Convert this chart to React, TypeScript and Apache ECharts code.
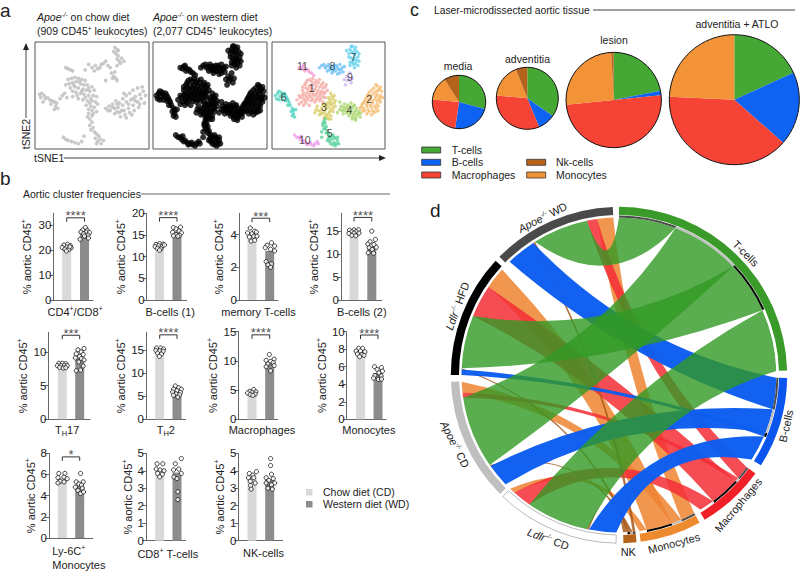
import React, { useEffect, useRef } from "react";
import * as echarts from "echarts";

const FONT = "Liberation Sans, Arial, sans-serif";
const TXT = "#222";

// ---------- a: tSNE ----------
const chowPoints = [
  [70,95],[72,93],[69,91],[71,89],[73,87],[72,84],[76,85],[78,82],[75,80],[72,78],[47,79],[50,76],[53,78],[55,75],[58,79],[60,80],[62,82],[57,76],[52,73],[64,78],
  [67,71],[70,72],[69,68],[71,66],[72,64],[68,66],[62,64],[27,76],[29,75],[31,74],[33,73],
  [29,65],[32,66],[35,67],[38,66],[41,65],[44,64],[30,61],[33,62],[36,63],[40,61],[43,60],[46,60],[50,58],[31,57],[35,58],[38,57],[42,56],[45,55],[48,54],[52,55],[36,53],[40,52],[43,51],[47,50],[51,50],[54,49],
  [26,52],[28,48],[33,49],[38,47],[42,46],[46,45],[50,45],[53,44],[45,41],[49,40],[52,39],[47,37],[50,36],[54,35],[47,33],[50,31],[48,28],[50,25],[48,22],[51,20],[49,18],[52,16],[54,14],[56,12],[53,10],[57,9],[55,7],[58,5],[54,5],[60,8],
  [25,11],[27,9],[29,8],[32,7],[35,6],[38,5],[41,7],[43,12],
  [4,51],[6,52],[8,50],[5,48],[9,47],[11,48],[13,46],[15,45],[17,44],[14,42],[18,40],[20,38],[17,37],[22,47],[24,50],
  [62,38],[65,40],[68,42],[71,45],[74,43],[77,47],[80,50],[83,52],[86,55],[90,57],[94,58],[66,36],[70,38],[73,39],[77,41],[80,44],[84,46],[88,49],[92,51],[95,54],[70,33],[74,34],[78,36],[82,38],[86,41],[90,44],[93,47],[75,30],[79,32],[83,34],[87,36],[91,39],[96,43],[80,29],
  [34,60],[39,63],[47,57],[41,54],[37,50],[44,48],[49,47],[33,54],[27,60],[55,42],[48,43],[51,33],[46,30],[64,36],[72,42],[76,36],[82,42],[88,45],[92,42],[85,32],[68,39],[78,52],[97,50],[86,47],[72,35],[7,44],[19,43],[73,92],[74,82],[66,76],[44,74]
];
const cluster1 = [[30,62],[33,65],[36,66],[39,64],[42,65],[45,62],[48,60],[27,58],[30,57],[33,59],[36,60],[39,59],[42,58],[45,57],[49,55],[28,52],[31,53],[34,54],[37,55],[40,53],[43,52],[46,52],[25,48],[28,47],[31,48],[34,49],[37,50],[40,48],[43,47],[26,44],[30,43],[35,45],[38,44],[24,42],[22,46],[47,48],
  [31,64],[35,63],[38,62],[41,62],[44,60],[47,58],[29,60],[32,56],[35,57],[38,56],[41,55],[44,54],[47,53],[27,55],[30,50],[33,51],[36,52],[39,51],[42,50],[45,49],[24,50],[27,50],[29,45],[32,46],[36,47],[39,46],[42,45],[28,41],[33,41],[45,44]];
const cluster2 = [[93,59],[96,58],[90,57],[94,55],[97,54],[86,53],[90,52],[93,51],[96,50],[84,49],[87,48],[91,47],[95,46],[82,45],[85,44],[89,43],[93,42],[80,42],[84,40],[88,39],[92,38],[78,38],[82,36],[86,35],[90,34],[94,36],[98,48],
  [92,60],[95,56],[88,55],[92,54],[85,51],[88,50],[92,49],[95,48],[83,47],[86,46],[89,45],[93,45],[96,44],[81,43],[84,42],[87,41],[91,40],[94,40],[79,40],[81,38],[85,37],[89,36],[92,35],[80,35],[84,33],[88,32]];
const cluster3 = [[52,52],[55,50],[50,48],[54,47],[52,44],[56,45],[49,43],[53,41],[46,42],[50,39],[54,38],[44,38],[47,36],[51,35],[41,36],[44,33],[48,32],[52,31],[46,29],[50,28],[40,40],[38,34],[56,40],
  [53,49],[51,46],[55,43],[48,41],[51,42],[45,40],[48,38],[52,37],[43,35],[46,34],[50,33],[54,35],[42,32],[47,30],[52,28],[49,30],[39,37]];
const cluster4 = [[61,40],[64,42],[67,41],[70,43],[73,41],[62,36],[65,38],[68,37],[71,38],[74,36],[77,35],[66,34],[69,33],[72,32],[75,31],[78,30],[71,28],[74,27],[58,34],[60,44],
  [63,39],[66,39],[69,40],[72,40],[75,38],[64,36],[67,35],[70,35],[73,34],[76,33],[68,31],[71,30],[74,29],[63,33],[60,37],[78,33]];
const cluster5 = [[46,26],[47,24],[45,22],[48,21],[46,19],[49,17],[44,16],[50,14],[52,12],[54,13],[53,9],[56,10],[51,7],[55,6],[58,8],[54,4],[57,5],[50,10],[44,11],
  [47,28],[45,24],[47,19],[48,15],[51,11],[55,11],[52,5],[56,3],[59,5],[49,8],[58,11]];
const cluster6 = [[5,52],[8,53],[11,52],[7,49],[10,49],[13,48],[12,45],[15,44],[16,41],[18,38],[17,35],[19,33],[20,30],[3,50],[21,37],
  [4,47],[6,46],[9,51],[6,54],[12,50],[9,46],[14,46],[14,41],[19,36],[18,31]];
const cluster7 = [[69,93],[71,96],[74,95],[68,89],[72,90],[75,91],[70,85],[73,85],[76,86],[71,81],[74,80],[77,82],[69,78],[73,76],
  [70,96],[73,93],[70,91],[73,88],[77,89],[68,86],[75,83],[72,83],[69,81],[76,78],[72,79],[66,92]];
const cluster8 = [[44,78],[47,76],[50,79],[52,75],[55,78],[58,76],[60,79],[56,73],[61,74],[49,73],[53,71],[64,77],[58,70],[63,72],
  [46,79],[48,77],[51,77],[53,77],[57,78],[59,74],[62,76],[55,75],[51,74],[54,73],[60,71],[42,76]];
const cluster9 = [[66,68],[69,71],[71,66],[67,64],[65,60],[70,62],[68,66],[64,65]];
const cluster10 = [[22,11],[25,9],[27,7],[30,6],[32,5],[35,4],[38,5],[40,7],[26,12],[24,11],[28,8],[31,4],[34,6],[37,3],[41,5],[20,13]];
const cluster11 = [[24,76],[27,77],[30,75],[33,72],[35,71],[29,73],[26,75],[28,78],[32,74],[37,69]];
const clusters = [cluster1, cluster2, cluster3, cluster4, cluster5, cluster6, cluster7, cluster8, cluster9, cluster10, cluster11];
const clusterColors = ["#f4a5a0", "#f5bb6e", "#d8cb62", "#a5d668", "#52cf95", "#48d0bc", "#5ccfee", "#68bdf5", "#c8b2f0", "#ea98e4", "#f498cf"];
const clusterLabels = [[35,57],[86,47],[46,39],[68.5,36],[51,15],[10,49],[72,86],[53.5,78],[69,67],[29,8],[27,78]];

// ---------- b: bar panels ----------
const panelNames = ["{n|CD4}{s|+}{n|/CD8}{s|+}", "B-cells (1)", "memory T-cells", "B-cells (2)", "{n|T}{b|H}{n|17}", "{n|T}{b|H}{n|2}", "Macrophages", "Monocytes", "{l|Ly-6C}{ls|+}\n{l|Monocytes}", "{n|CD8}{s|+}{n| T-cells}", "NK-cells"];
const panelMax = [34.7, 20, 5.3, 18.9, 12.9, 18.8, 15, 10, 8, 5, 5];
const panelTicks = [[0,10,20,30],[0,5,10,15,20],[0,2,4],[0,5,10,15],[0,5,10],[0,5,10,15],[0,5,10,15],[0,2,4,6,8,10],[0,2,4,6,8],[0,1,2,3,4,5],[0,1,2,3,4,5]];
const meanCD = [21.2, 12.4, 4, 14.7, 7.9, 14.6, 4.6, 7.6, 5.7, 4.1, 3.6];
const meanWD = [27.2, 15.6, 3, 11.7, 9, 5.8, 9.8, 5.3, 4.9, 3.9, 3.5];
const dotsCD = [
  [[-.15,22],[.05,22.3],[.2,21.8],[-.25,21],[0,21.2],[.25,20.9],[-.1,20.4],[.12,20.2],[-.02,19.6],[.18,21.3]],
  [[-.2,12.8],[0,13],[.2,12.9],[-.25,12.3],[-.05,12.5],[.15,12.4],[.28,12.7],[-.12,11.9],[.08,11.8],[0,11.5]],
  [[-.1,4.4],[.15,4.2],[-.25,4.1],[.25,4.15],[0,4.05],[-.15,3.85],[.1,3.9],[.28,3.9],[-.05,3.6],[.15,3.65]],
  [[-.25,15.2],[0,15.3],[.25,15.3],[-.12,14.9],[.12,14.9],[-.28,14.5],[0,14.6],[.28,14.6],[-.12,14.1],[.1,14]],
  [[-.2,8.3],[0,8.3],[.2,8.25],[-.28,7.95],[-.08,8],[.12,8],[.28,7.95],[-.15,7.7],[.05,7.6],[.2,7.65]],
  [[-.18,15.4],[.05,15.4],[.22,15.2],[-.22,14.9],[0,14.8],[.2,14.7],[-.12,14.3],[.1,14.1],[-.02,13.6]],
  [[.1,5.1],[-.12,4.8],[.22,4.7],[-.25,4.5],[0,4.6],[.18,4.3],[-.1,4.25],[.05,4.1]],
  [[-.1,8.1],[.12,8.1],[-.25,7.8],[0,7.8],[.25,7.7],[-.18,7.45],[.08,7.4],[-.05,7.15],[.2,7.3]],
  [[-.2,6.1],[.15,6.1],[-.25,5.7],[.1,5.75],[.28,5.6],[-.12,5.35],[.1,5.3],[-.25,5.2]],
  [[-.15,4.4],[.18,4.4],[-.2,4.1],[.02,4.05],[.25,4],[-.12,3.85],[.15,3.8],[0,3.65]],
  [[-.15,3.85],[.25,3.95],[.05,3.75],[-.2,3.6],[.1,3.6],[-.1,3.4],[.18,3.3],[-.08,3.15],[-.05,2.95]]
];
const dotsWD = [
  [[.05,29],[-.1,28],[.15,27.9],[-.2,27.2],[.1,27.2],[.28,27],[-.05,26.5],[.2,26],[-.25,24.3],[.22,24.8],[0,25.6]],
  [[-.2,16.7],[.2,16.8],[-.05,16.4],[.12,15.9],[-.25,15.6],[.25,15.5],[-.05,15.1],[.15,14.9],[-.2,14.8],[.05,14.7]],
  [[.1,3.5],[-.15,3.35],[.28,3.3],[-.25,3.2],[.05,3.1],[.28,3],[-.2,2.35],[.1,2.2],[-.1,2.15],[.05,2]],
  [[0,15],[.2,13.2],[-.1,12.7],[-.22,12.2],[.12,12.1],[.25,11.5],[-.15,11.4],[.02,11],[-.2,10.3],[.1,10.2]],
  [[.25,10.5],[-.1,10.3],[.08,10],[-.2,9.7],[.2,9.6],[0,9.3],[-.25,9.1],[.1,9],[.25,8.8],[-.05,8.5],[.2,7.9],[-.2,7.2],[.05,7.3]],
  [[-.1,7.2],[.1,6.8],[-.2,6.5],[.25,6.5],[0,6.2],[-.25,5.9],[.2,5.8],[-.05,5.5],[.15,5.3],[-.2,5.2],[.05,4.8]],
  [[-.02,11.1],[.25,10.3],[-.2,10.1],[.05,9.9],[.2,9.7],[-.1,9.5],[.25,9.2],[-.2,9],[.05,8.3]],
  [[-.2,6],[.2,5.9],[-.05,5.7],[.25,5.5],[.05,5.3],[-.18,5],[.18,4.95],[-.25,4.7],[.02,4.55],[.2,4.6]],
  [[.05,6.1],[-.2,5.3],[.2,5.3],[-.05,5.1],[.1,5],[-.25,4.8],[.15,4.7],[-.1,4.5],[.05,4.2],[.22,4.35]],
  [[.25,4.7],[-.1,4.4],[.1,4.1],[-.2,4.05],[.25,3.85],[-.18,3.65],[0,3.55],[.05,2.8],[.05,2.35]],
  [[.05,4.7],[.05,4.3],[.1,3.8],[-.2,3.6],[.2,3.55],[-.05,3.45],[.28,3.3],[-.2,3.3],[.1,3.2],[-.1,3],[.15,2.95]]
];
const starLabels = ["****", "****", "***", "****", "***", "****", "****", "****", "*", "", ""];
const bracketTop = [32.9, 19, 5, 18, 12.46, 18.25, 14.46, 9.62, 7.66, 0, 0];
// layout of the small panels, in pixels
const pxAxis = [53.3, 146.7, 239, 341, 48.3, 146, 238.3, 346.7, 49, 146, 238.3];
const pxRight = [93, 186.7, 278, 381.7, 90, 185.7, 277.7, 386, 92.7, 185.7, 282.7];
const pxBar1 = [66.7, 159.5, 252, 354, 62.3, 159.7, 252, 360.5, 62.3, 159.7, 252];
const pxBar2 = [84.5, 177, 269.7, 371.8, 79.7, 177, 269.7, 378, 79.7, 177, 269.7];
const pxTop = [213.3, 213.3, 213.3, 213.3, 332.3, 332.3, 331.7, 331.7, 453.3, 453.3, 453.3];
const pxBottom = [300, 300, 300, 300, 419.3, 419.3, 419.3, 419.3, 540.7, 540.7, 540.7];
const yNameGap = [19, 19, 13, 20, 18, 18, 18, 18, 11, 11, 11];
const xNameGap = [5, 5, 5, 5, 4, 4, 4, 4, 6, 6, 6];
const xNameShift = [2, 3.5, 0, 0.5, -2, 0, 4, 2.5, 8, 2, 3];

// ---------- c: pies ----------
const pieCells = ["T-cells", "B-cells", "Macrophages", "Monocytes", "Nk-cells"];
const pieColors = ["#45a835", "#0f63f2", "#f54336", "#f39338", "#b5621c"];
const pieTitles = ["media", "adventitia", "lesion", "adventitia + ATLO"];
const pieMedia = [29.2, 23, 24.1, 14.4, 9.1];
const pieAdventitia = [34.7, 9.1, 32.7, 17.5, 6];
const pieLesion = [21.9, 1.5, 50, 25.8, 0.8];
const pieAtlo = [18.2, 18.3, 39.2, 24.3, 0];
const pieValues = [pieMedia, pieAdventitia, pieLesion, pieAtlo];
const pieCx = [459, 527.3, 613.7, 734.3];
const pieCy = [102, 98.3, 100, 99.7];
const pieR = [26.7, 31, 47.7, 65];
const pieTitleY = [66, 59, 40, 24];
const pieTitleX = [458, 527.5, 614, 737];

// ---------- d: chord (spans in degrees of the circle) ----------
const sourceColors = ["#4a4a4a", "#bfbfbf", "#000000", "#ffffff"];
const sourceArcs = [[314.7, 357.9], [225, 267.7], [270, 312.8], [181, 223.7]];
const sourceFirstRibbon = [316, 226, 270, 181];
const targetNames = ["T-cells", "B-cells", "Macrophages", "Monocytes", "NK"];
const targetColors = ["#3a9a2a", "#0a55ee", "#f01f28", "#ee8a2e", "#b5621b"];
const ribbonColors = ["#329a24", "#0d5ef0", "#f42d36", "#ef8430", "#a8591c"];
const ribbonOpacity = [0.8, 0.98, 0.85, 0.85, 0.85];
const targetArcs = [[0, 88.5], [91, 122.5], [125.8, 149.4], [151.4, 172.6], [174, 178.5]];
// source side, clockwise: B, NK, T, Mac, Mono
const sourceOrder = [1, 4, 0, 2, 3];
const spanApoeWD = [11, 0.7, 20.5, 3.8, 5.9];
const spanApoeCD = [8.7, 0.5, 26.5, 1.8, 4];
const spanLdlrHFD = [2, 0.5, 19.5, 12, 8];
const spanLdlrCD = [10, 0.7, 23, 7, 2];
const sourceSpans = [spanApoeWD, spanApoeCD, spanLdlrHFD, spanLdlrCD];
// target side, clockwise: Apoe WD, Apoe CD, Ldlr HFD, Ldlr CD
const spanTcells = [21, 25.5, 19.2, 22.8];
const spanBcells = [11.6, 8.9, 1.5, 9.5];
const spanMac = [5, 1.5, 11, 5.5];
const spanMono = [5.3, 3.8, 9.4, 2.6];
const spanNK = [1, 1, 1, 1.5];
const targetSpans = [spanTcells, spanBcells, spanMac, spanMono, spanNK];

const CX = 619, CY = 375, R = 157.5;
const pt = (deg: number, r: number) => {
  const a = (deg * Math.PI) / 180;
  return [CX + r * Math.sin(a), CY - r * Math.cos(a)];
};
const fmt = (p: number[]) => `${p[0].toFixed(2)} ${p[1].toFixed(2)}`;
const band = (a0: number, a1: number, r0: number, r1: number) => {
  const large = a1 - a0 > 180 ? 1 : 0;
  return `M${fmt(pt(a0, r1))}A${r1} ${r1} 0 ${large} 1 ${fmt(pt(a1, r1))}L${fmt(pt(a1, r0))}A${r0} ${r0} 0 ${large} 0 ${fmt(pt(a0, r0))}Z`;
};
const ctrl = (a: number, b: number) => {
  let d = ((b - a) % 360 + 360) % 360;
  let mid = a + d / 2;
  if (d > 180) {
    d = 360 - d;
    mid = b + d / 2;
  }
  const c = 0.6 * R * Math.pow(Math.cos((d * Math.PI) / 360), 1.5);
  return pt(mid, c);
};
const ribbon = (s0: number, s1: number, t0: number, t1: number) =>
  `M${fmt(pt(s0, R))}A${R} ${R} 0 0 1 ${fmt(pt(s1, R))}Q${fmt(ctrl(s1, t0))} ${fmt(pt(t0, R))}A${R} ${R} 0 0 1 ${fmt(pt(t1, R))}Q${fmt(ctrl(t1, s0))} ${fmt(pt(s0, R))}Z`;

const buildChord = () => {
  const srcPos = sourceSpans.map((spans, s) => {
    let a = sourceFirstRibbon[s];
    const out: number[][] = [];
    spans.forEach((w, i) => {
      out[sourceOrder[i]] = [a, a + w];
      a += w;
    });
    return out;
  });
  const tgtPos = targetSpans.map((spans, t) => {
    let a = targetArcs[t][0];
    return spans.map((w) => {
      const r = [a, a + w];
      a += w;
      return r;
    });
  });
  const ribbons: any[] = [];
  [3, 2, 4, 1, 0].forEach((t) => {
    [0, 2, 1, 3].forEach((s) => {
      const [s0, s1] = srcPos[s][t];
      const [t0, t1] = tgtPos[t][s];
      ribbons.push({ value: [s0, s1, t0, t1], d: ribbon(s0, s1, t0, t1), fill: ribbonColors[t], opacity: ribbonOpacity[t] });
    });
  });
  const bands: any[] = [];
  targetArcs.forEach((arc, t) => {
    bands.push({ value: arc, d: band(arc[0], arc[1], 160, 168.2), fill: targetColors[t], stroke: "none" });
    tgtPos[t].forEach((p, s) => {
      bands.push({ value: p, d: band(p[0], p[1], 157.5, 159.5), fill: sourceColors[s], stroke: "none" });
    });
  });
  sourceArcs.forEach((arc, s) => {
    bands.push({ value: arc, d: band(arc[0], arc[1], 160, 168.2), fill: sourceColors[s], stroke: s === 3 ? "#a8a8a8" : "none" });
  });
  return { ribbons, bands };
};

const RICH = {
  n: { fontSize: 11, fontFamily: FONT, color: TXT },
  s: { fontSize: 7, fontFamily: FONT, color: TXT, verticalAlign: "top", lineHeight: 14 },
  ls: { fontSize: 7, fontFamily: FONT, color: TXT, verticalAlign: "top", lineHeight: 14, align: "left" },
  b: { fontSize: 7.5, fontFamily: FONT, color: TXT, verticalAlign: "bottom", lineHeight: 14 },
  l: { fontSize: 11, fontFamily: FONT, color: TXT, align: "left", lineHeight: 13 },
  i: { fontSize: 10.5, fontFamily: FONT, color: TXT, fontStyle: "italic" },
  t: { fontSize: 10.5, fontFamily: FONT, color: TXT },
  u: { fontSize: 6.5, fontFamily: FONT, color: TXT, verticalAlign: "top", lineHeight: 13 },
  ui: { fontSize: 6.5, fontFamily: FONT, color: TXT, fontStyle: "italic", verticalAlign: "top", lineHeight: 13 },
  ci: { fontSize: 11, fontFamily: FONT, color: TXT, fontStyle: "italic" },
  ct: { fontSize: 11, fontFamily: FONT, color: TXT }
};

const txt = (text: string, x: number, y: number, fontSize = 10.5, extra: any = {}, align = "left") => ({
  type: "text",
  x,
  y,
  silent: true,
  ...extra,
  style: { text, fontSize, fontFamily: FONT, fill: TXT, align, verticalAlign: "middle", rich: RICH, ...(extra.style || {}) }
});
const deg = (d: number) => (d * Math.PI) / 180;

function buildOption() {
  const grid: any[] = [];
  const xAxis: any[] = [];
  const yAxis: any[] = [];
  const series: any[] = [];

  // tSNE panels
  const tsneX = [35, 153, 272];
  const tsneW = [114, 114, 113];
  tsneX.forEach((x, i) => {
    grid.push({ left: x, top: 42, width: tsneW[i], height: 107, show: true, borderColor: "#555", borderWidth: 1, backgroundColor: "transparent" });
    xAxis.push({ gridIndex: i, type: "value", min: 0, max: 100, show: false });
    yAxis.push({ gridIndex: i, type: "value", min: 0, max: 100, show: false });
  });
  const sc = { type: "scatter", silent: true, clip: false };
  series.push({ ...sc, xAxisIndex: 0, yAxisIndex: 0, data: chowPoints, symbolSize: 3.8, itemStyle: { color: "#bdbdbd" } });
  series.push({ ...sc, xAxisIndex: 1, yAxisIndex: 1, data: clusters.flat(), symbolSize: 6, itemStyle: { color: "#000" } });
  clusters.forEach((c, i) => {
    series.push({ ...sc, xAxisIndex: 2, yAxisIndex: 2, data: c, symbolSize: 3.5, itemStyle: { color: clusterColors[i], opacity: 0.75 } });
  });
  series.push({
    ...sc, xAxisIndex: 2, yAxisIndex: 2, symbolSize: 1, itemStyle: { color: "transparent" },
    data: clusterLabels.map((p, i) => ({ value: p, label: { formatter: String(i + 1) } })),
    label: { show: true, position: "inside", fontSize: 10.5, fontFamily: FONT, color: TXT }
  });

  // bar panels
  panelNames.forEach((name, i) => {
    const g = tsneX.length + i;
    const spacing = pxBar2[i] - pxBar1[i];
    const h = pxBottom[i] - pxTop[i];
    grid.push({ left: pxAxis[i], top: pxTop[i], width: pxRight[i] - pxAxis[i], height: h });
    xAxis.push({
      gridIndex: g, type: "value",
      min: (pxAxis[i] - pxBar1[i]) / spacing, max: (pxRight[i] - pxBar1[i]) / spacing,
      axisLine: { show: true, onZero: false, lineStyle: { color: "#666", width: 1 } },
      axisTick: { show: false }, axisLabel: { show: false }, splitLine: { show: false },
      name, nameLocation: "middle", nameGap: xNameGap[i],
      nameTextStyle: { fontSize: 11, fontFamily: FONT, color: TXT, rich: RICH, padding: [0, 0, 0, xNameShift[i] * 2], lineHeight: 13 }
    });
    yAxis.push({
      gridIndex: g, type: "value", min: 0, max: panelMax[i],
      axisLine: { show: true, onZero: false, lineStyle: { color: "#666", width: 1 } },
      axisTick: { show: true, length: 4, customValues: panelTicks[i], lineStyle: { color: "#666" } },
      axisLabel: { customValues: panelTicks[i], margin: 2, fontSize: 11.5, fontFamily: FONT, color: TXT },
      splitLine: { show: false },
      name: "{n|% aortic CD45}{s|+}", nameLocation: "middle", nameGap: yNameGap[i],
      nameTextStyle: { rich: RICH, fontSize: 11, fontFamily: FONT, color: TXT }
    });
    const ax = { xAxisIndex: g, yAxisIndex: g, silent: true, clip: false };
    series.push({
      ...ax, type: "bar", barWidth: 9,
      data: [
        { value: [0, meanCD[i]], itemStyle: { color: "#d9d9d9" } },
        { value: [1, meanWD[i]], itemStyle: { color: "#8c8c8c" } }
      ]
    });
    const dotStyle = { color: "#fff", borderColor: "#111", borderWidth: 1 };
    series.push({ ...ax, type: "scatter", symbolSize: 4.2, itemStyle: dotStyle, z: 3, data: dotsCD[i].map(([o, v]) => [o, v]) });
    series.push({ ...ax, type: "scatter", symbolSize: 4.2, itemStyle: dotStyle, z: 3, data: dotsWD[i].map(([o, v]) => [1 + o, v]) });
    if (starLabels[i]) {
      const perPx = panelMax[i] / h;
      const top = bracketTop[i];
      const foot = top - 4 * perPx;
      series.push({ ...ax, type: "line", symbol: "none", lineStyle: { color: "#333", width: 1 }, data: [[0, foot], [0, top], [1, top], [1, foot]] });
      series.push({
        ...ax, type: "scatter", symbolSize: 1, itemStyle: { color: "transparent" }, z: 4,
        data: [[0.5, top + 2 * perPx]],
        label: { show: true, position: "inside", formatter: starLabels[i], fontSize: 13, fontFamily: FONT, color: TXT }
      });
    }
  });

  // pies
  pieValues.forEach((vals, i) => {
    series.push({
      type: "pie", silent: true, center: [pieCx[i], pieCy[i]], radius: pieR[i], startAngle: 90, clockwise: true,
      label: { show: false }, labelLine: { show: false }, minAngle: 0,
      data: vals.map((v, k) => ({ name: pieCells[k], value: v, itemStyle: { color: pieColors[k] } }))
    });
  });

  // chord
  const { ribbons, bands } = buildChord();
  series.push({
    type: "custom", coordinateSystem: "none", silent: true, z: 2, data: ribbons,
    renderItem: (p: any) => {
      const r = ribbons[p.dataIndex];
      return { type: "path", shape: { pathData: r.d }, style: { fill: r.fill, opacity: r.opacity, stroke: "none" } };
    }
  });
  series.push({
    type: "custom", coordinateSystem: "none", silent: true, z: 3, data: bands,
    renderItem: (p: any) => {
      const r = bands[p.dataIndex];
      return { type: "path", shape: { pathData: r.d }, style: { fill: r.fill, stroke: r.stroke, lineWidth: 0.8 } };
    }
  });

  const line = (x1: number, y1: number, x2: number, y2: number, stroke = "#444", lineWidth = 1) => ({
    type: "line", silent: true, shape: { x1, y1, x2, y2 }, style: { stroke, lineWidth }
  });
  const poly = (points: number[][], fill = "#222") => ({ type: "polygon", silent: true, shape: { points }, style: { fill } });
  const apoe = "{i|Apoe}{ui|-/-}";
  const apoeC = "{ci|Apoe}{ui|-/-}";
  const ldlrC = "{ci|Ldlr}{ui|-/-}";

  const graphic: any[] = [
    txt("a", 0, 10, 19),
    txt("b", 0, 178, 19),
    txt("c", 410, 10, 18),
    txt("d", 430, 210, 19),
    txt(`${apoe}{t| on chow diet}`, 37, 17),
    txt("{t|(909 CD45}{u|+}{t| leukocytes)}", 37, 31),
    txt(`${apoe}{t| on western diet}`, 153, 17),
    txt("{t|(2,077 CD45}{u|+}{t| leukocytes)}", 153, 31),
    line(26, 50, 26, 118),
    poly([[26, 43], [23, 50], [29, 50]]),
    txt("tSNE2", 26, 134, 10.5, { rotation: deg(90) }, "center"),
    txt("tSNE1", 34, 158, 10.5),
    line(64, 158, 380, 158),
    poly([[386, 158], [379, 155], [379, 161]]),
    txt("Aortic cluster frequencies", 23, 194, 10.5),
    line(141, 194, 390, 194, "#666"),
    { type: "rect", silent: true, shape: { x: 306, y: 489, width: 6.5, height: 6.5 }, style: { fill: "#d9d9d9" } },
    { type: "rect", silent: true, shape: { x: 306, y: 501, width: 6.5, height: 6.5 }, style: { fill: "#8c8c8c" } },
    txt("Chow diet (CD)", 323, 492, 10.5),
    txt("Western diet (WD)", 323, 504, 10.5),
    txt("Laser-microdissected aortic tissue", 434, 10, 10.3),
    line(593, 10, 795, 10, "#444"),
    ...pieTitles.map((t, i) => txt(t, pieTitleX[i], pieTitleY[i], 10.5, {}, "center")),
    ...pieCx.map((cx, i) => ({ type: "circle", silent: true, z: 10, shape: { cx, cy: pieCy[i], r: pieR[i] }, style: { fill: "none", stroke: "#111", lineWidth: 1 } })),
    ...[[0, 421.7, 150, 451.7], [1, 421.7, 162.3, 451.7], [2, 421.7, 175, 451.7], [4, 526.7, 162.3, 556], [3, 526.7, 175, 556]].flatMap(([k, x, y, tx]) => [
      { type: "rect", silent: true, shape: { x, y: y - 3, width: 19, height: 6 }, style: { fill: pieColors[k], stroke: "#333", lineWidth: 0.8 } },
      txt(pieCells[k], tx, y, 10.5)
    ]),
    txt(`${apoeC}{ct| WD}`, 542.7, 217.3, 11, { rotation: deg(27) }, "center"),
    txt(`${ldlrC}{ct| HFD}`, 457.3, 306, 11, { rotation: deg(70) }, "center"),
    txt(`${apoeC}{ct| CD}`, 455, 444.3, 11, { rotation: deg(-63) }, "center"),
    txt(`${ldlrC}{ct| CD}`, 548.3, 539, 11, { rotation: deg(-20) }, "center"),
    txt(targetNames[0], 745.7, 253.3, 11, { rotation: deg(-45) }, "center"),
    txt(targetNames[1], 786, 426, 11, { rotation: deg(77) }, "center"),
    txt(targetNames[2], 738.3, 505, 11, { rotation: deg(50) }, "center"),
    txt(targetNames[3], 674, 543.3, 11, { rotation: deg(15) }, "center"),
    txt(targetNames[4], 628.3, 551.7, 11, {}, "center")
  ];

  return {
    animation: false,
    backgroundColor: "#fff",
    textStyle: { fontFamily: FONT },
    grid, xAxis, yAxis, series, graphic,
    tooltip: { show: false }
  };
}

export default function App() {
  const ref = useRef<HTMLDivElement>(null);
  useEffect(() => {
    const chart = echarts.init(ref.current!, undefined, { renderer: "svg" });
    chart.setOption(buildOption() as any);
    return () => chart.dispose();
  }, []);
  return <div ref={ref} style={{ position: "absolute", left: 0, top: 0, width: 800, height: 572 }} />;
}
